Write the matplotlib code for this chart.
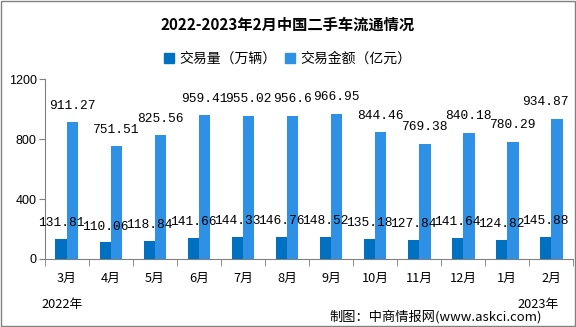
import numpy as np
import matplotlib
matplotlib.use('Agg')
import matplotlib.pyplot as plt
from matplotlib.patches import Rectangle, Patch

plt.rcParams['font.family'] = ['Noto Sans CJK SC', 'DejaVu Sans']

months = ['3月', '4月', '5月', '6月', '7月', '8月', '9月', '10月', '11月', '12月', '1月', '2月']
volume = [131.81, 110.06, 118.84, 141.66, 144.33, 146.76, 148.52, 135.18, 127.84, 141.64, 124.82, 145.88]
amount = [911.27, 751.51, 825.56, 959.41, 955.02, 956.6, 966.95, 844.46, 769.38, 840.18, 780.29, 934.87]
amount_labels = ['911.27', '751.51', '825.56', '959.41', '955.02', '956.6', '966.95', '844.46',
                 '769.38', '840.18', '780.29', '934.87']
yticks = [0, 400, 800, 1200]

c_vol = '#0070C0'
c_amt = '#2E91E5'

fig = plt.figure(figsize=(5.76, 3.27), dpi=100)
ax = fig.add_axes([0.078, 0.208, 0.917, 0.55])

x = np.arange(len(months))
w = 0.26
ax.bar(x - w / 2, volume, width=w, color=c_vol, zorder=3)
ax.bar(x + w / 2, amount, width=w, color=c_amt, zorder=3)

for xi, v in zip(x, volume):
    ax.annotate(f'{v:.2f}', xy=(xi - w / 2, v), xytext=(0, 11.5),
                textcoords='offset points', ha='center', va='center',
                family='Liberation Mono', fontsize=9.3, color='black', zorder=4)
for i, (xi, v) in enumerate(zip(x, amount)):
    dx = -8 if i == len(amount) - 1 else 0
    ax.annotate(amount_labels[i], xy=(xi + w / 2, v), xytext=(dx, 12),
                textcoords='offset points', ha='center', va='center',
                family='Liberation Mono', fontsize=9.3, color='black', zorder=4)

ax.set_xlim(-0.5, len(months) - 0.5)
ax.set_ylim(0, 1200)
ax.set_yticks(yticks)
ax.set_yticklabels([str(t) for t in yticks], family='Liberation Sans', fontsize=9)
ax.tick_params(axis='y', length=4, color='#808080', pad=2)

ax.set_xticks(x)
ax.set_xticklabels(months, fontsize=9.2)
ax.tick_params(axis='x', length=0, pad=9)
ax.set_xticks(np.arange(-0.5, len(months), 1), minor=True)
ax.tick_params(axis='x', which='minor', length=5, color='#808080')

for s in ['top', 'right']:
    ax.spines[s].set_visible(False)
for s in ['left', 'bottom']:
    ax.spines[s].set_color('#808080')

fig.text(0.5, 0.925, '2022-2023年2月中国二手车流通情况', ha='center', va='center',
         fontsize=11, fontweight='bold')

handles = [Patch(color=c_vol, label='交易量（万辆）'), Patch(color=c_amt, label='交易金额（亿元）')]
fig.legend(handles=handles, loc='center', bbox_to_anchor=(0.5, 0.82), ncol=2, frameon=False,
           fontsize=10, handlelength=0.7, handleheight=0.7, handletextpad=0.4, columnspacing=0.6)

fig.text(0.107, 0.07, '2022年', ha='center', va='center', fontsize=9.2)
fig.text(0.935, 0.07, '2023年', ha='center', va='center', fontsize=9.2)
fig.text(0.572, 0.033, '制图：中商情报网(www.askci.com)', ha='left', va='center', fontsize=9.5)

fig.patches.append(Rectangle((0.001, 0.002), 0.997, 0.995, transform=fig.transFigure,
                             fill=False, edgecolor='#808080', linewidth=1))

fig.savefig('out.png', dpi=100, facecolor='white')
